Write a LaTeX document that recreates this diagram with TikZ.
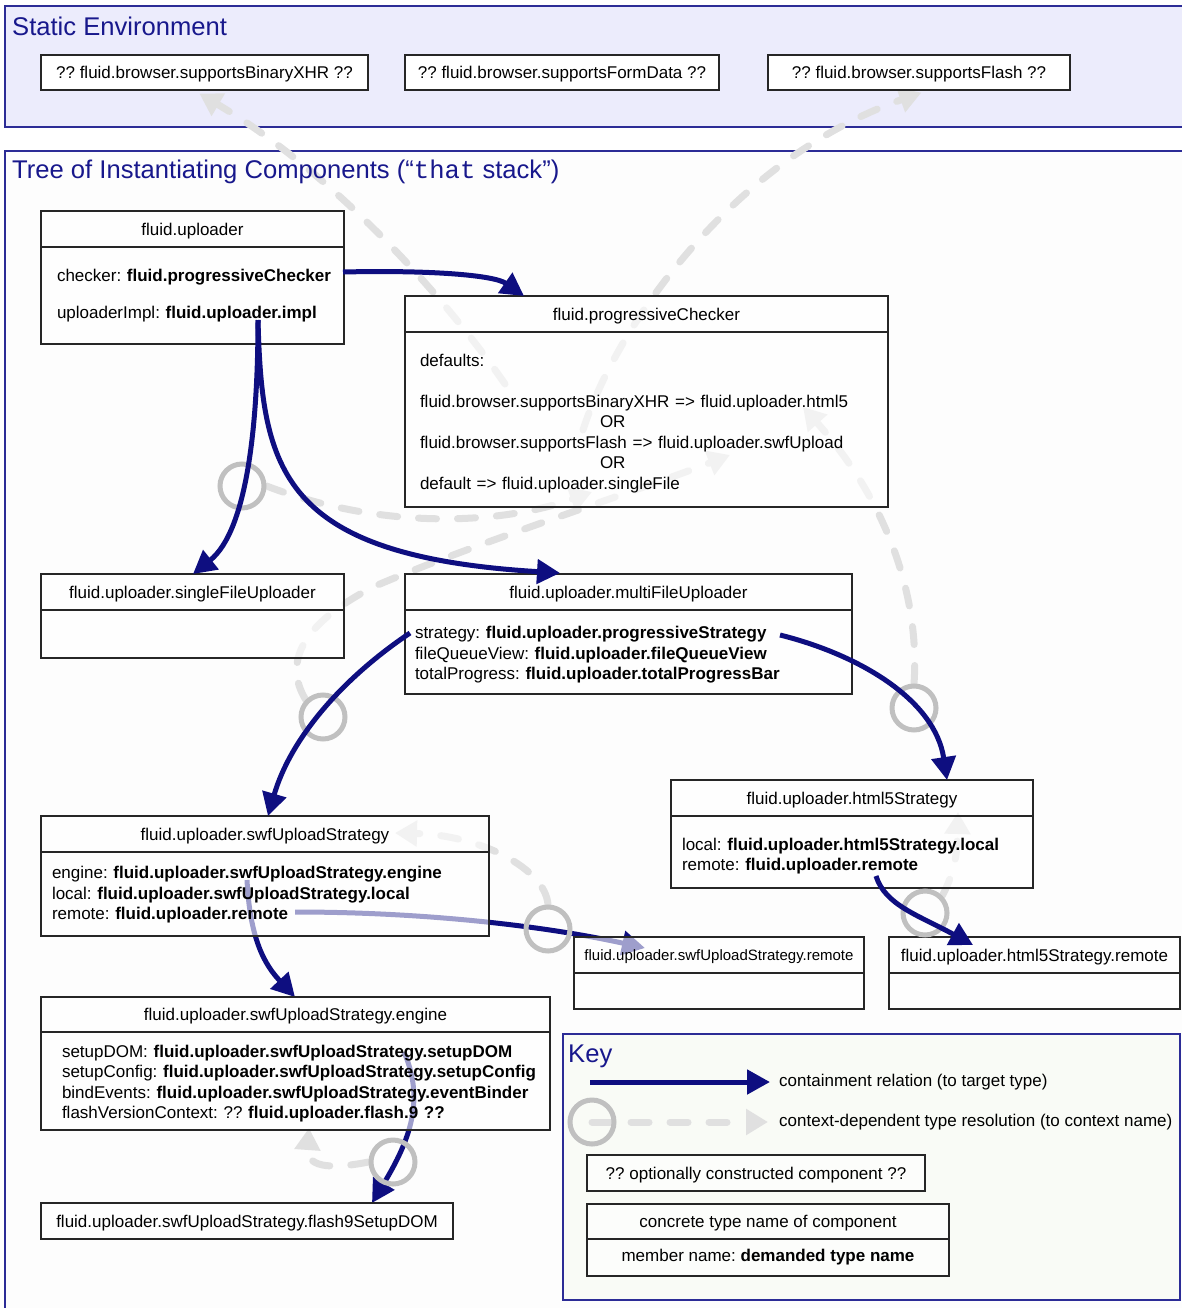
\documentclass[tikz,border=0pt]{standalone}
\usepackage{fontspec}
\setmainfont{Liberation Sans}
\setmonofont{Liberation Mono}
\usepackage{tikz}
\usetikzlibrary{positioning}
\usetikzlibrary{calc}
\usetikzlibrary{arrows.meta}
\definecolor{navyline}{RGB}{14,14,128}
\definecolor{navytext}{RGB}{24,24,140}
\definecolor{panelblue}{RGB}{44,44,150}
\definecolor{envfill}{RGB}{236,236,252}
\definecolor{treefill}{RGB}{253,253,253}
\definecolor{keyfill}{RGB}{249,251,246}
\definecolor{resgray}{RGB}{224,224,224}
\definecolor{ringgray}{RGB}{192,192,192}
\newcommand{\compfont}{\fontsize{17}{20.5}\selectfont\frenchspacing}
\newcommand{\smallcompfont}{\fontsize{15}{18}\selectfont\frenchspacing}
\newcommand{\paneltitlefont}{\fontsize{25.6}{30}\selectfont}
\newcommand{\lift}[1]{\rule{0pt}{#1}}
\pgfdeclarelayer{panels}
\pgfdeclarelayer{under}
\pgfdeclarelayer{over}
\pgfsetlayers{panels,under,main,over}
\tikzstyle{panel} = [draw=panelblue, line width=1.5pt]
\tikzstyle{paneltitle} = [anchor=west, inner sep=0pt, text=navytext, font=\paneltitlefont]
\tikzstyle{comptitle} = [rectangle, draw=black!85, line width=1.2pt, fill=white, fill opacity=0.6, text opacity=1, inner sep=0pt, outer sep=0pt, minimum height=36pt, text depth=0pt, text centered, font=\compfont]
\tikzstyle{compbody} = [rectangle, draw=black!85, line width=1.2pt, fill=white, fill opacity=0.6, text opacity=1, inner ysep=0pt, outer sep=0pt, align=left, font=\compfont]
\tikzstyle{envbox} = [rectangle, draw=black!85, line width=1.2pt, fill=white, inner sep=0pt, minimum height=35pt, text depth=0pt, font=\compfont]
\tikzstyle{keytext} = [anchor=west, inner sep=0pt, font=\compfont]
\tikzstyle{contain} = [draw=navyline, line width=5pt, -{Triangle[length=23pt,width=24pt]}]
\tikzstyle{resolve} = [draw=resgray, line width=7pt, line cap=round, dash pattern=on 18pt off 21pt, -{Triangle[length=22pt,width=25pt]}]
\tikzstyle{ctxring} = [circle, draw=ringgray, line width=5pt, minimum size=44pt, inner sep=0pt]

\begin{document}
\begin{tikzpicture}[x=1pt, y=-1pt]
\useasboundingbox (0,0) rectangle (1182,1308);

% panels
\begin{pgfonlayer}{panels}
    \draw [panel, fill=envfill] (5,6) rectangle (1190,127);
    \draw [panel, fill=treefill] (5,151) rectangle (1190,1318);
    \draw [panel, fill=keyfill] (563,1034) rectangle (1180,1300);
\end{pgfonlayer}
\node (envtitle) [paneltitle] at (12,26) {Static Environment};
\node (treetitle) [paneltitle] at (12,172) {Tree of Instantiating Components (“{\ttfamily that} stack”)};
\node (keytitle) [paneltitle] at (568,1056) {Key};

% static environment
\node (xhr) [envbox, minimum width=327pt] at (204.5,72.5) {?? fluid.browser.supportsBinaryXHR ??};
\node (formdata) [envbox, minimum width=314pt] at (562,72.5) {?? fluid.browser.supportsFormData ??};
\node (flash) [envbox, minimum width=302pt] at (919,72.5) {?? fluid.browser.supportsFlash ??};

% components
\node (up) [comptitle, minimum width=303pt] at (192.5,229) {fluid.uploader};
\node (upB) [compbody, below=0pt of up, text width=271pt, inner xsep=16pt, minimum height=97pt] {\mbox{checker: \textbf{fluid.progressiveChecker}}\\[16.5pt]\mbox{uploaderImpl: \textbf{fluid.uploader.impl}}};

\node (chk) [comptitle, minimum width=483pt] at (646.5,314) {fluid.progressiveChecker};
\node (chkB) [compbody, below=0pt of chk, text width=453pt, inner xsep=15pt, minimum height=175pt] {\lift{20pt}defaults:\\[20.5pt]\mbox{fluid.browser.supportsBinaryXHR => fluid.uploader.html5}\\ \hspace*{180pt}OR\\ \mbox{fluid.browser.supportsFlash => fluid.uploader.swfUpload}\\ \hspace*{180pt}OR\\ \mbox{default => fluid.uploader.singleFile}};

\node (sfu) [comptitle, minimum width=303pt] at (192.5,592) {fluid.uploader.singleFileUploader};
\node (sfuB) [compbody, below=0pt of sfu, minimum width=303pt, minimum height=48pt] {};

\node (mfu) [comptitle, minimum width=447pt] at (628.5,592) {fluid.uploader.multiFileUploader};
\node (mfuB) [compbody, below=0pt of mfu, text width=427pt, inner xsep=10pt, minimum height=84pt] {\lift{18.5pt}\mbox{strategy: \textbf{fluid.uploader.progressiveStrategy}}\\ \mbox{fileQueueView: \textbf{fluid.uploader.fileQueueView}}\\ \mbox{totalProgress: \textbf{fluid.uploader.totalProgressBar}}};

\node (h5) [comptitle, minimum width=362pt] at (852,798) {fluid.uploader.html5Strategy};
\node (h5B) [compbody, below=0pt of h5, text width=340pt, inner xsep=11pt, minimum height=72pt] {\lift{21pt}\mbox{local: \textbf{fluid.uploader.html5Strategy.local}}\\ \mbox{remote: \textbf{fluid.uploader.remote}}};

\node (swf) [comptitle, minimum width=448pt] at (265,834) {fluid.uploader.swfUploadStrategy};
\node (swfB) [compbody, below=0pt of swf, text width=426pt, inner xsep=11pt, minimum height=84pt] {\lift{14.5pt}\mbox{engine: \textbf{fluid.uploader.swfUploadStrategy.engine}}\\ \mbox{local: \textbf{fluid.uploader.swfUploadStrategy.local}}\\ \mbox{remote: \textbf{fluid.uploader.remote}}};

\node (swfr) [comptitle, minimum width=290pt, font=\smallcompfont] at (719,955) {fluid.uploader.swfUploadStrategy.remote};
\node (swfrB) [compbody, below=0pt of swfr, minimum width=290pt, minimum height=36pt] {};

\node (h5r) [comptitle, minimum width=291pt] at (1034.5,955) {fluid.uploader.html5Strategy.remote};
\node (h5rB) [compbody, below=0pt of h5r, minimum width=291pt, minimum height=36pt] {};

\node (eng) [comptitle, minimum width=509pt, minimum height=35pt] at (295.5,1014.5) {fluid.uploader.swfUploadStrategy.engine};
\node (engB) [compbody, below=0pt of eng, text width=467pt, inner xsep=21pt, minimum height=98pt] {\lift{17.5pt}\mbox{setupDOM: \textbf{fluid.uploader.swfUploadStrategy.setupDOM}}\\ \mbox{setupConfig: \textbf{fluid.uploader.swfUploadStrategy.setupConfig}}\\ \mbox{bindEvents: \textbf{fluid.uploader.swfUploadStrategy.eventBinder}}\\ \mbox{flashVersionContext: ?? \textbf{fluid.uploader.flash.9 ??}}};

\node (f9) [comptitle, minimum width=412pt] at (247,1221) {fluid.uploader.swfUploadStrategy.flash9SetupDOM};

% key
\node (kt1) [keytext] at (779,1082) {containment relation (to target type)};
\node (kt2) [keytext] at (779,1122) {context-dependent type resolution (to context name)};
\node (optbox) [comptitle, minimum width=338pt] at (756,1173) {?? optionally constructed component ??};
\node (keyT) [comptitle, minimum width=362pt, minimum height=35pt] at (768,1221.5) {concrete type name of component};
\node (keyB) [compbody, below=0pt of keyT, minimum width=362pt, minimum height=37pt, align=center] {member name: \textbf{demanded type name}};
\coordinate (keystart) at (590,1082);

% context rings
\begin{pgfonlayer}{over}
    \node (ringA) [ctxring] at (242,486) {};
    \node (ringB) [ctxring] at (323,717) {};
    \node (ringC) [ctxring] at (914,708) {};
    \node (ringD) [ctxring] at (548,929) {};
    \node (ringE) [ctxring] at (925,913) {};
    \node (ringF) [ctxring] at (393,1162) {};
    \node (keyring) [ctxring] at (592,1122) {};
\end{pgfonlayer}

\begin{pgfonlayer}{under}
    \draw [resolve] (ringA.east) .. controls +(115,44) and +(-92,33) .. ($(chkB.south west)+(187,-15)$);
    \draw [resolve] (ringB.north west) .. controls +(-22,-36) and +(-73,38) .. (373,587) .. controls +(97,-42) and +(-90,35) .. ($(chkB.north west)+(325,123)$);
    \draw [resolve] (ringC.north) .. controls +(6,-85) and +(85,95) .. ($(chkB.north west)+(398,75)$);
    \draw [resolve] (ringD.north) .. controls +(-3,-36) and +(85,2) .. ($(swf.east)+(-94,-1)$);
    \draw [resolve] (ringE.north east) .. controls +(14,-27) and +(-1,38) .. ($(h5.south east)+(-75,-4)$);
    \draw [resolve] (ringF.west) .. controls +(-30,6) and +(-3,42) .. ($(engB.south west)+(268,-2)$);
    \draw [resolve] ($(chkB.north west)+(100,52)$) .. controls +(-65,-94) and +(130,77) .. ($(xhr.south west)+(159,3)$);
    \draw [resolve] ($(chkB.north west)+(178,98)$) .. controls +(32,-100) and +(-192,68) .. ($(flash.south west)+(154,2)$);
    \draw [resolve] (keyring.center) -- ($(kt2.west)+(-11,0)$);
    \draw [contain] ($(swfB.north west)+(254,60)$) .. controls +(125,0) and +(-105,-23) .. ($(swfr.north west)+(71,11)$);
    \draw [contain] ($(swfB.north west)+(206,28)$) .. controls +(3,60) and +(-30,-32) .. ($(eng.north west)+(254,0)$);
    \draw [contain] ($(engB.north west)+(363,20)$) .. controls +(21,48) and +(38,-63) .. ($(f9.north west)+(331,0)$);
\end{pgfonlayer}

\begin{pgfonlayer}{over}
    \draw [contain] ($(upB.north east)+(-1,25)$) .. controls +(87,-2) and +(-30,-21) .. ($(chk.north west)+(119,0)$);
    \draw [contain] ($(upB.north west)+(217,73)$) .. controls +(0,100) and +(55,-44) .. ($(sfu.north west)+(152,0)$);
    \draw [contain] ($(upB.north west)+(217,73)$) .. controls +(4,150) and +(-280,-17) .. ($(mfu.north west)+(155,-1)$);
    \draw [contain] ($(mfuB.north west)+(5,23)$) .. controls +(-70,47) and +(22,-76) .. ($(swf.north west)+(227,0)$);
    \draw [contain] ($(mfuB.north west)+(375,25)$) .. controls +(80,20) and +(-12,-80) .. ($(h5.north west)+(276,0)$);
    \draw [contain] ($(h5B.north west)+(205,60)$) .. controls +(9,29) and +(-55,-30) .. ($(h5r.north west)+(84,8)$);
    \draw [contain] (keystart) -- ($(kt1.west)+(-9,0)$);
\end{pgfonlayer}
\end{tikzpicture}
\end{document}
